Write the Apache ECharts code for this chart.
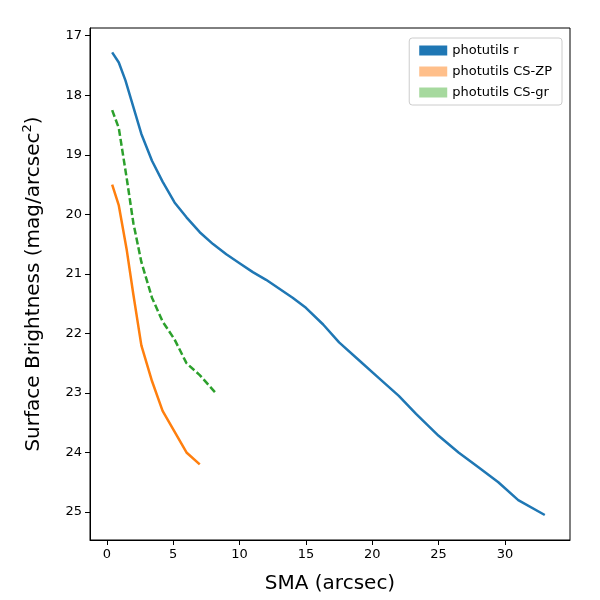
<!DOCTYPE html>
<html><head><meta charset="utf-8">
<script src="https://cdn.jsdelivr.net/npm/echarts@6/dist/echarts.min.js"></script>
<style>body{margin:0}#c{width:600px;height:600px}</style>
</head><body><div id="c"></div>
<script>
var sma_r = [0.4,0.9,1.4,2,2.6,3.4,4.2,5.1,6,7,8,9,10,11,12,13,14,15,16.3,17.5,19,20.5,22,23.3,25,26.5,28,29.5,31,33];
var mu_r = [17.28,17.45,17.75,18.2,18.65,19.1,19.45,19.8,20.05,20.3,20.5,20.67,20.82,20.97,21.1,21.25,21.4,21.57,21.85,22.15,22.45,22.75,23.05,23.35,23.72,24.0,24.25,24.5,24.8,25.05];
var sma_zp = [0.4,0.9,1.5,2,2.6,3.4,4.2,5.1,6,7];
var mu_zp = [19.5,19.85,20.6,21.35,22.2,22.8,23.3,23.65,24.0,24.2];
var sma_gr = [0.4,0.9,1.5,2,2.6,3.4,4.2,5.1,6,7,8.2];
var mu_gr = [18.25,18.55,19.4,20.15,20.8,21.4,21.8,22.1,22.5,22.7,23.0];
var xTicks = [0,5,10,15,20,25,30];
var yTicks = [17,18,19,20,21,22,23,24,25];
var names = ['photutils r','photutils CS-ZP','photutils CS-gr'];
function pts(x,y){return x.map(function(v,i){return [v,y[i]];});}
var chart = echarts.init(document.getElementById('c'));
function axis(ticks){
  return {
    axisLine:{show:true,onZero:false,lineStyle:{color:'#000'}},
    axisTick:{show:true,customValues:ticks,lineStyle:{color:'#000'}},
    axisLabel:{customValues:ticks,color:'#000',fontSize:13,fontFamily:'DejaVu Sans'},
    splitLine:{show:false},
    nameTextStyle:{fontSize:20,fontFamily:'DejaVu Sans',color:'#000',
      rich:{sup:{fontSize:13,verticalAlign:'top',padding:[0,0,12,0],fontFamily:'DejaVu Sans'}}}
  };
}
chart.setOption({
  animation:false,
  grid:{left:90,right:30,top:28,bottom:60,show:true,borderColor:'#000'},
  legend:{top:38,right:38,orient:'vertical',itemWidth:28,itemHeight:10,icon:'rect',itemGap:8,
    backgroundColor:'#fff',borderColor:'#ccc',borderWidth:1,borderRadius:3,padding:[6,10],
    textStyle:{fontSize:13,fontFamily:'DejaVu Sans',color:'#000'},data:names},
  xAxis:Object.assign({type:'value',min:-1.27,max:34.9,name:'SMA (arcsec)',nameLocation:'middle',nameGap:34},axis(xTicks)),
  yAxis:Object.assign({type:'value',inverse:true,min:16.87,max:25.47,name:'Surface Brightness (mag/arcsec{sup|2})',nameLocation:'middle',nameGap:44},axis(yTicks)),
  series:[
    {name:names[0],type:'line',showSymbol:false,data:pts(sma_r,mu_r),itemStyle:{color:'#1f77b4'},lineStyle:{width:2.5,color:'#1f77b4'}},
    {name:names[1],type:'line',showSymbol:false,data:pts(sma_zp,mu_zp),itemStyle:{color:'#ffbf8a'},lineStyle:{width:2.5,color:'#ff7f0e'}},
    {name:names[2],type:'line',showSymbol:false,data:pts(sma_gr,mu_gr),itemStyle:{color:'#a6d99e'},lineStyle:{width:2.5,color:'#2ca02c',type:[7,3]}}
  ]
});
</script></body></html>
